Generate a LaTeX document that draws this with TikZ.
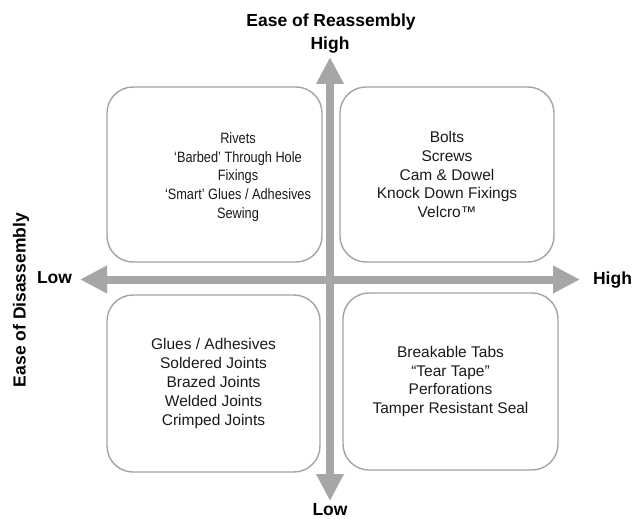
\documentclass[tikz,border=0pt]{standalone}
\usepackage{fontspec}
\setmainfont{Liberation Sans}
\usetikzlibrary{arrows.meta}
\definecolor{arrowgray}{HTML}{A6A6A6}
\definecolor{boxgray}{HTML}{A3A3A3}
\definecolor{txt}{HTML}{1A1A1A}
\tikzset{
  quad/.style={draw=boxgray, line width=1.4pt, rounded corners=26pt, inner sep=0pt},
  body/.style={align=center, text=txt, font=\fontsize{15.5}{18.8}\selectfont, inner sep=0pt},
  narrowbody/.style={body, font=\fontsize{15}{18.8}\selectfont, xscale=0.85, transform shape},
  axislabel/.style={text=black, font=\bfseries\fontsize{17.5}{20}\selectfont, inner sep=0pt},
  axisarrow/.style={draw=arrowgray, line width=8pt},
  bigtip/.tip={Triangle[width=26pt,length=27pt]}
}
\begin{document}
\begin{tikzpicture}[x=1pt,y=-1pt]
\useasboundingbox (0,0) rectangle (635,519);
% boxes
\node[quad, minimum width=215pt, minimum height=175pt] (tl) at (214.5,174.5) {};
\node[narrowbody] (tltext) at (238,177) {Rivets\\‘Barbed’ Through Hole\\Fixings\\‘Smart’ Glues / Adhesives\\Sewing};
\node[quad, minimum width=214pt, minimum height=175pt] (tr) at (447,174.5) {};
\node[body] (trtext) at (tr.center) {Bolts\\Screws\\Cam \& Dowel\\Knock Down Fixings\\Velcro™};
\node[quad, minimum width=213pt, minimum height=177pt] (bl) at (213.5,383.5) {};
\node[body] (bltext) at (bl.center) {Glues / Adhesives\\Soldered Joints\\Brazed Joints\\Welded Joints\\Crimped Joints};
\node[quad, minimum width=215pt, minimum height=177pt] (br) at (450.5,381.5) {};
\node[body] (brtext) at (br.center) {Breakable Tabs\\“Tear Tape”\\Perforations\\Tamper Resistant Seal};
% axis ends
\coordinate (left) at (80,279.5);
\coordinate (right) at (580,279.5);
\coordinate (top) at (330,57);
\coordinate (bottom) at (330,501);
\draw[axisarrow, {bigtip}-{bigtip}] (left) -- (right);
\draw[axisarrow, {bigtip}-{bigtip}] (bottom) -- (top);
% labels
\node[axislabel] (title) at (331,22) {Ease of Reassembly};
\node[axislabel] (hightop) at (330,45) {High};
\node[axislabel] (lowbottom) at (330,510) {Low};
\node[axislabel] (lowleft) at (54.5,278) {Low};
\node[axislabel] (highright) at (612.5,280) {High};
\node[axislabel, rotate=90] (ylabel) at (21,300) {Ease of Disassembly};
\end{tikzpicture}
\end{document}
